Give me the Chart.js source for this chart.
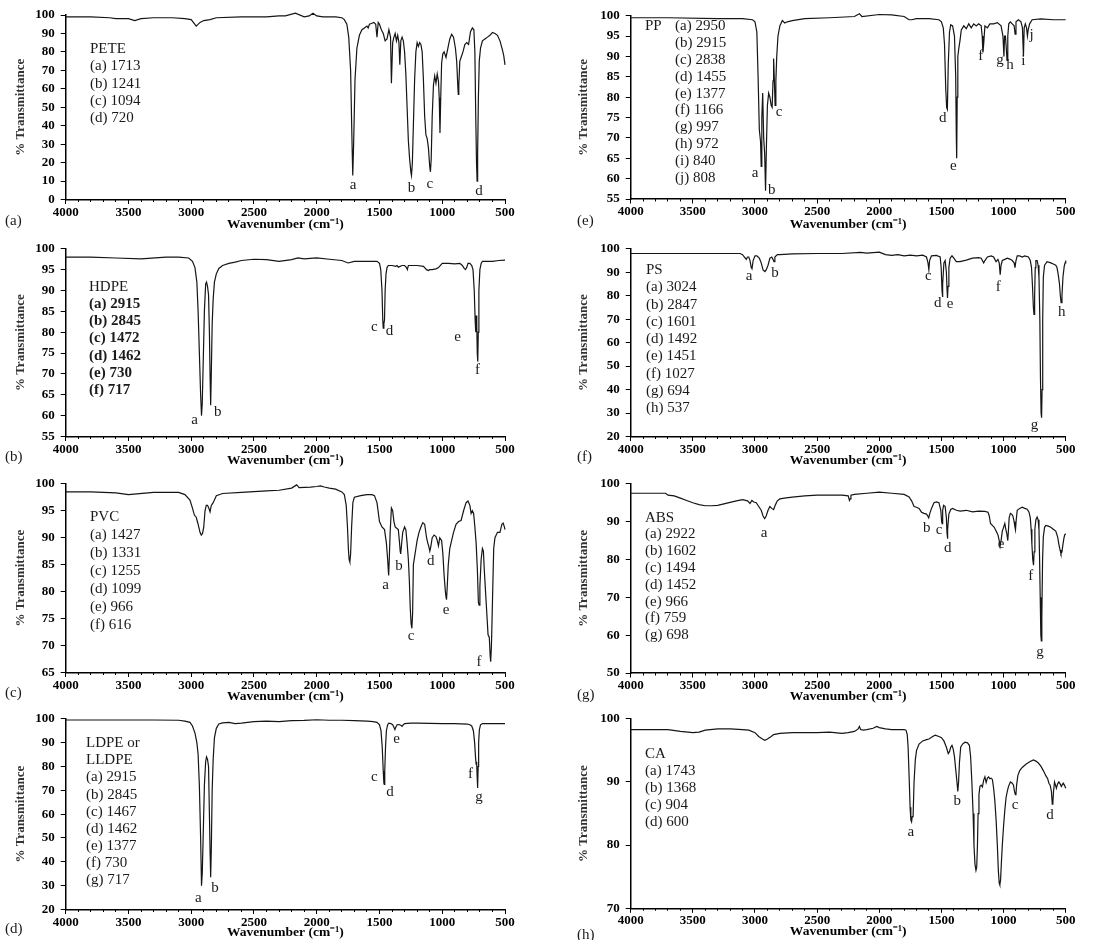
<!DOCTYPE html>
<html>
<head>
<meta charset="utf-8">
<title>FTIR spectra of common plastics</title>
<script src="https://cdn.jsdelivr.net/npm/chart.js@4.4.0/dist/chart.umd.min.js"></script>
<style>
    body { margin: 0; background: #fff; width: 1095px; height: 945px; position: relative; overflow: hidden; }
    canvas { position: absolute; }
</style>
</head>
<body>
<script>
//---------------------- DATA

// (a) PETE
const peteWn = [4000,3800,3650,3600,3500,3450,3400,3300,3150,3050,3000,2960,2930,2900,2850,2800,2600,2400,2300,2250,2170,2100,2060,2030,2000,1950,1850,1800,1780,1760,1745,1730,1720,1713,1706,1695,1680,1660,1640,1620,1600,1590,1580,1560,1545,1530,1520,1510,1500,1485,1470,1455,1440,1425,1412,1405,1395,1385,1375,1365,1355,1345,1338,1330,1320,1310,1300,1290,1280,1270,1260,1250,1245,1238,1230,1220,1210,1200,1190,1180,1170,1160,1150,1140,1130,1120,1110,1100,1094,1088,1080,1070,1060,1050,1040,1030,1024,1018,1012,1005,995,985,970,955,940,925,910,895,885,875,872,868,860,850,835,820,805,790,775,760,748,740,733,727,722,718,712,705,695,680,660,640,620,600,580,560,540,520,510,500];
const peteT = [99,99,98.5,98,98,97,98,98.5,98.5,98,97.5,94,96,97,97.5,98.5,99,99,99.5,99.5,101,99,99.5,101,99.5,99,99,98.5,97.5,95,88,70,35,13,30,65,82,89,92,93,94,93,95,95.5,96,95,88,96,95,92,90,86,87,92,88,63,85,88,90,86,89,85,73,86,88,86,80,68,50,32,22,15,13,20,40,65,80,85,83,85,84,80,65,45,35,33,28,18,15,22,45,62,67,63,68,64,55,36,55,74,79,80,77,82,87,89.5,88,82,75,60,57,62,75,77,80,84,85,84,91,93,92,80,45,20,10,25,55,75,82,86,87,88,89,90.5,90,89,86,81,78,73];
const peteName = ["PETE"];
const peteLegend = ["(a) 1713", "(b) 1241", "(c) 1094", "(d) 720"];
const peteMarks = ["a", "b", "c", "d"];
const peteMarkWn = [1710, 1245, 1098, 707];
const peteMarkT = [8, 6.2, 8.6, 4.4];

// (e) PP
const ppWn = [4000,3700,3300,3100,3020,3000,2985,2975,2965,2955,2950,2945,2938,2930,2922,2915,2908,2900,2890,2880,2870,2862,2855,2850,2845,2838,2832,2825,2815,2800,2780,2760,2740,2700,2600,2400,2200,2160,2140,2000,1900,1800,1760,1740,1700,1600,1520,1500,1485,1475,1465,1458,1452,1445,1435,1425,1410,1395,1385,1380,1377,1373,1368,1360,1350,1340,1320,1300,1280,1260,1240,1220,1200,1180,1172,1166,1160,1150,1130,1110,1080,1050,1020,1005,997,992,985,978,972,966,958,945,930,915,907,900,880,860,848,840,834,825,815,808,802,790,770,700,600,500];
const ppT = [99.5,99.5,99.3,99.3,99,98.5,96,85,72,69,63,75,81,70,66,57,68,78,81,80,78,77.5,84,89.5,85,78,84,90,95,97.5,98.8,98.2,98.5,98.8,99.3,99.5,99.8,100.5,99.8,100.3,100.2,99.8,99,99,99.3,99.3,99,98.5,97,93,82,77.5,77,88,96,97.8,97.5,95,85,70,65,80,90,92,94,96.5,97.5,96.8,98,97,98,97.5,98,97.5,95,91,93,97.5,97,98,98,98.3,97.5,95,90,95,95,92,89,95,98,98.5,98,97.5,95.5,98.5,99,98.5,97,90,97,98,97,95,96.5,98,99,99.2,99,99];
const ppName = ["PP"];
const ppLegend = ["(a) 2950", "(b) 2915", "(c) 2838", "(d) 1455", "(e) 1377", "(f) 1166", "(g) 997", "(h) 972", "(i) 840", "(j) 808"];
const ppMarks = ["a", "b", "c", "d", "e", "f", "g", "h", "i", "j"];
const ppMarkWn = [3000, 2866, 2807, 1490, 1404, 1184, 1028, 948, 841, 774];
const ppMarkT = [61.3, 57.2, 76.3, 74.9, 63.1, 90.1, 89.2, 87.9, 88.8, 95.2];

// (b) HDPE
const hdpeWn = [4000,3800,3600,3400,3200,3100,3020,2990,2970,2955,2945,2935,2925,2918,2912,2905,2895,2885,2878,2870,2862,2855,2850,2845,2840,2833,2825,2815,2800,2780,2750,2700,2650,2600,2500,2400,2300,2200,2150,2100,2000,1900,1800,1750,1700,1600,1520,1500,1490,1480,1474,1470,1465,1460,1455,1448,1440,1430,1400,1370,1360,1350,1320,1300,1285,1278,1270,1250,1200,1150,1125,1110,1100,1080,1050,1030,1000,950,900,860,840,825,815,805,795,780,765,755,745,738,733,729,725,721,717,713,708,700,690,680,650,600,550,500];
const hdpeT = [98,98,97.8,97.6,98,98,97.8,97,95.5,92,85,75,65,60,63,72,85,91.5,92,91,89,80,70,62.5,70,82,88,92,94,95.3,96,96.5,96.8,97.2,97.5,97.4,97,97.4,97.8,97.6,97.8,97.5,97.2,96.6,97,97,97,96.5,95,90,83,81,82,83,90,94,95.5,96,96,95.8,96,95.6,96,96,95.5,95,96,96,96,95.8,95,94.8,95,95,95.2,95.5,96.5,96.5,96.4,96.5,96,95.3,95,95.5,96.5,96.5,96,95,90,83,80,84,82,75,73,80,90,95,96.5,97,97,97,97.2,97.3];
const hdpeName = ["HDPE"];
const hdpeLegend = ["(a) 2915", "(b) 2845", "(c) 1472", "(d) 1462", "(e) 730", "(f) 717"];
const hdpeMarks = ["a", "b", "c", "d", "e", "f"];
const hdpeMarkWn = [2974, 2788, 1542, 1420, 877, 720];
const hdpeMarkT = [59, 60.8, 81.2, 80.2, 78.8, 70.9];

// (f) PS
const psWn = [4000,3500,3120,3100,3085,3070,3060,3050,3040,3030,3024,3015,3000,2985,2965,2950,2935,2920,2910,2895,2880,2865,2855,2847,2840,2820,2800,2700,2500,2300,2150,2100,2000,1950,1900,1850,1800,1750,1700,1650,1620,1608,1601,1595,1580,1540,1510,1502,1495,1492,1488,1480,1470,1460,1455,1451,1447,1440,1430,1415,1400,1380,1350,1300,1250,1200,1180,1170,1160,1150,1130,1100,1080,1070,1060,1045,1035,1027,1020,1010,990,970,945,930,915,908,900,890,870,850,830,800,785,775,768,760,755,750,745,740,730,722,715,708,703,698,694,690,685,680,670,650,620,600,580,570,560,550,543,537,530,522,512,505,500];
const psT = [98,98,98,97.5,96.5,95.5,96.5,96.5,95,92,91.5,95,97,97,96,94,91,90.3,91,93,96,96.5,95.5,94.5,96.5,97.5,97.5,97.8,98,98,98.5,98.2,98.6,97.5,97.2,97.5,97,97.3,97,97.3,96.5,94,91,95,97,97.2,96.5,92,82,79.5,85,94,95,90,83,79,84,92,96,97,96,94.5,94.5,95.2,96,96.2,96,95,94,95,96.5,97,96.5,95.5,94.5,95.5,94,89,93,95,95.5,96,95.5,95,94,92,95,97,97,96.5,97,96.5,95,92,85,75,72,80,92,95,95,93,88,70,45,30,28,40,70,88,93,94.5,94,93.5,93,92,89,85,80,77,80,88,92.5,94,95];
const psName = ["PS"];
const psLegend = ["(a) 3024", "(b) 2847", "(c) 1601", "(d) 1492", "(e) 1451", "(f) 1027", "(g) 694", "(h) 537"];
const psMarks = ["a", "b", "c", "d", "e", "f", "g", "h"];
const psMarkWn = [3048, 2839, 1605, 1530, 1431, 1042, 752, 532];
const psMarkT = [88.3, 89.7, 88.3, 76.8, 76.4, 83.5, 25, 73.1];

// (c) PVC
const pvcWn = [4000,3800,3600,3500,3300,3100,3050,3010,2990,2975,2960,2945,2930,2920,2910,2900,2890,2880,2870,2860,2850,2840,2825,2800,2750,2600,2400,2300,2200,2160,2140,2050,2000,1970,1940,1900,1850,1800,1780,1765,1755,1748,1742,1736,1730,1722,1712,1700,1650,1600,1560,1540,1520,1500,1480,1460,1445,1435,1430,1427,1422,1415,1405,1395,1385,1375,1365,1350,1340,1335,1331,1325,1315,1300,1290,1280,1270,1262,1255,1248,1242,1236,1230,1220,1210,1200,1185,1170,1155,1140,1125,1115,1108,1099,1090,1080,1065,1050,1040,1030,1020,1005,995,985,975,970,966,960,952,940,925,910,890,870,850,830,810,795,780,770,760,750,740,730,720,712,706,700,690,680,672,665,655,645,635,625,618,614,608,600,590,580,560,540,525,515,505,500];
const pvcT = [98.5,98.5,98.3,98,98.4,98.4,98,97,95.5,94.2,93.8,92.5,91,90.5,90.8,92,95,96,96,95.5,94.8,96,96.5,97.8,98.2,98.4,98.7,98.8,99.2,99.8,99.3,99.4,99.5,99.6,99.4,99.2,99,98.5,98,96,92,88,86,85.5,87,92,96.5,97.5,97.8,98,98,97.8,96.5,93,92,91.5,89,86,84,83,86,91,95.5,95,93,92,91.8,91.5,89,87.5,87,88.5,91,92,91.5,89,86,82,77,74,73.2,76,85,86.5,88,89.5,91,92,92.8,92.5,90,89,88.5,87.5,88.5,90,90.5,90.2,89.5,88.5,90,89.5,87,83,80,79,78.5,81,85,88,89.5,91,92.5,93,93.2,95,96.5,96.8,96,94.5,95,94.5,92,89,84,78,77.5,81,86,88,87.5,84,80,76,72,71.5,68,67,70,78,88,90,91,91,92.5,92.7,92,91.5];
const pvcName = ["PVC"];
const pvcLegend = ["(a) 1427", "(b) 1331", "(c) 1255", "(d) 1099", "(e) 966", "(f) 616"];
const pvcMarks = ["a", "b", "c", "d", "e", "f"];
const pvcMarkWn = [1451, 1345, 1249, 1092, 970, 707];
const pvcMarkT = [81.2, 84.7, 71.7, 85.7, 76.5, 66.9];

// (g) ABS
const absWn = [4000,3800,3720,3700,3650,3600,3550,3500,3450,3400,3350,3300,3250,3200,3150,3100,3060,3040,3025,3010,2990,2970,2950,2935,2922,2910,2895,2880,2865,2850,2835,2820,2800,2750,2700,2600,2500,2400,2300,2250,2240,2235,2228,2200,2100,2000,1900,1800,1760,1740,1720,1700,1680,1660,1640,1620,1610,1602,1595,1580,1560,1540,1520,1505,1498,1494,1490,1482,1470,1460,1455,1452,1448,1440,1425,1410,1380,1350,1300,1250,1200,1150,1125,1115,1105,1090,1075,1060,1045,1035,1028,1020,1010,1000,990,982,975,970,966,962,955,945,935,925,915,908,904,898,890,870,850,830,810,795,785,778,772,765,759,754,748,740,730,722,715,710,705,700,696,692,686,680,670,660,640,620,600,580,565,555,545,538,530,522,515,508,500];
const absT = [97.5,97.5,97.5,97,96.8,96.2,95.6,95,94.5,94.2,94.2,94.3,94.7,95.1,95.5,95.8,95.5,94.8,95.6,95.2,95,94,93,91.5,90.8,91.5,93,94,93.5,93.2,94.5,95.5,96,96.3,96.5,96.8,97,97,97,96.8,95.6,96,97,97.2,97.5,97.8,97.5,97.2,96.5,95.5,94,93.8,93.5,92.5,92.2,92,91.5,91,92,93.5,95,95.2,95,93,90,89.5,93,94.3,94,91,87,85.5,88,92,93.2,93.5,93,92.8,93,92.6,92.8,92.7,92.5,91.5,89.5,89,88.5,87.5,86.5,85,83.5,85,87.5,88.5,89.5,88,87,86,85,87,91,92.2,92,91.5,90,88.5,87.8,90.5,93,93.5,93.8,93.5,93.3,92.5,91,88,84,80,78.5,82,88,90.5,91.2,90.5,88,80,70,60,58.5,65,80,86,88.5,89,88.8,88.5,88,87.5,86,84,82.5,81.5,82,84,85.5,86.5,86.8];
const absName = ["ABS"];
const absLegend = ["(a) 2922", "(b) 1602", "(c) 1494", "(d) 1452", "(e) 966", "(f) 759", "(g) 698"];
const absMarks = ["a", "b", "c", "d", "e", "f", "g"];
const absMarkWn = [2927, 1618, 1519, 1450, 1020, 782, 707];
const absMarkT = [87, 88.4, 87.7, 82.9, 84, 75.5, 55.5];

// (d) LDPE / LLDPE
const ldpeWn = [4000,3600,3300,3100,3050,3010,2990,2970,2955,2945,2935,2925,2918,2912,2905,2895,2885,2878,2870,2862,2855,2850,2845,2840,2833,2825,2815,2800,2780,2750,2700,2650,2600,2500,2400,2300,2200,2100,2000,1900,1800,1700,1600,1550,1520,1500,1488,1478,1470,1465,1462,1458,1452,1445,1435,1425,1410,1395,1385,1377,1370,1360,1345,1330,1320,1310,1300,1250,1200,1100,1000,900,800,780,765,752,742,735,730,726,722,718,714,710,704,695,680,650,600,500];
const ldpeT = [99.5,99.5,99.5,99.4,99,98.5,97,94,90,85,72,50,30,35,50,72,82,84,83,80,60,45,33.5,45,70,83,92,96,97.8,98.3,98.5,98,98.2,98.8,99,98.8,99.2,99.3,99.6,99.4,99.4,99.2,99,98.8,98.5,97.5,95,88,78,73,72.5,78,88,95,97.5,98.2,98,97.5,96.5,95.5,96.5,97.5,97.6,97.3,96.8,97.5,98,98.2,98.2,98.1,98,98,97.8,97.5,97,95,90,84,81,82,76,71,80,90,95.5,97.5,98,98,98,98];
const ldpeName = ["LDPE or", "LLDPE"];
const ldpeLegend = ["(a) 2915", "(b) 2845", "(c) 1467", "(d) 1462", "(e) 1377", "(f) 730", "(g) 717"];
const ldpeMarks = ["a", "b", "c", "d", "e", "f", "g"];
const ldpeMarkWn = [2943, 2810, 1541, 1416, 1363, 774, 707];
const ldpeMarkT = [24.8, 29, 75.5, 69.2, 91.6, 76.9, 67.1];

// (h) CA
const caWn = [4000,3800,3700,3600,3500,3450,3400,3300,3200,3100,3050,3000,2970,2940,2920,2900,2870,2850,2800,2700,2600,2500,2400,2300,2250,2200,2170,2160,2150,2130,2100,2050,2020,2000,1950,1900,1850,1800,1785,1775,1768,1760,1752,1746,1740,1735,1728,1720,1710,1700,1680,1650,1620,1600,1570,1550,1520,1500,1480,1460,1445,1435,1425,1415,1405,1395,1385,1375,1368,1362,1355,1345,1330,1310,1290,1275,1265,1255,1245,1238,1230,1222,1216,1210,1205,1198,1190,1180,1170,1160,1150,1140,1130,1120,1110,1100,1090,1080,1070,1060,1050,1042,1035,1030,1024,1018,1010,1000,990,980,970,960,945,930,920,912,905,900,895,885,870,850,820,790,760,740,720,700,680,660,645,635,625,615,608,603,598,590,582,575,565,555,545,535,520,510,500];
const caT = [98.3,98.3,98.3,98,97.8,97.9,98.2,98.4,98.4,98.3,98.2,97.8,97.2,96.8,96.6,96.8,97.2,97.5,97.7,97.8,97.8,97.8,97.9,97.7,97.8,98,98.4,98.8,98.3,98.2,98.3,98.5,98.8,98.6,98.4,98.3,98.3,98.3,98.2,97.5,95.5,91,86,84,83.7,84.5,84.5,90,93.5,95,96,96.5,96.7,96.8,97.2,97.4,97.2,97,96.5,95.5,94.5,94.8,95.5,95.8,95.2,94,92,90,88.5,90,93,95.5,96,96.3,96.2,95.8,94,90,85,80,77,76,76.5,80,85,88,89.3,89.5,89.2,90.3,90.8,89.9,90.6,90.8,90.5,90.6,90.4,89,87,84,80,76,74,73.7,74.5,77,80,83,85.5,87.5,88.5,89.3,90,89.8,89.5,88.5,88,88.2,89.5,91,91.8,92.3,92.8,93.2,93.5,93.3,93,92.5,91.8,91,90.5,89.8,89.5,88.5,86.5,86.8,88.5,90,89.5,89,89.7,90,89.7,89.3,89.8,89.5,89];
const caName = ["CA"];
const caLegend = ["(a) 1743", "(b) 1368", "(c) 904", "(d) 600"];
const caMarks = ["a", "b", "c", "d"];
const caMarkWn = [1747, 1372, 908, 626];
const caMarkT = [82, 87, 86.3, 84.8];

//---------------------- LAYOUT

const SERIF = '"Liberation Serif", "Times New Roman", serif';
const ROW_H = 235;

// one entry per panel; pixel numbers are placement only, the values come from the arrays above
const panels = [
    { tag: "(a)", col: 0, row: 0, yMin: 0, yMax: 100, yStep: 10, top: 15, bottom: 199.5, titleY: 225, tagY: 221,
      wn: peteWn, t: peteT, name: peteName, legend: peteLegend, marks: peteMarks, markWn: peteMarkWn, markT: peteMarkT,
      nameX: 90, legendX: 90, legendY: 49, dy: 17.3, inline: false, bold: false },
    { tag: "(e)", col: 1, row: 0, yMin: 55, yMax: 100, yStep: 5, top: 15.7, bottom: 199, titleY: 225, tagY: 221,
      wn: ppWn, t: ppT, name: ppName, legend: ppLegend, marks: ppMarks, markWn: ppMarkWn, markT: ppMarkT,
      nameX: 85, legendX: 115, legendY: 26, dy: 16.9, inline: true, bold: false },
    { tag: "(b)", col: 0, row: 1, yMin: 55, yMax: 100, yStep: 5, top: 11, bottom: 201.5, titleY: 226, tagY: 222,
      wn: hdpeWn, t: hdpeT, name: hdpeName, legend: hdpeLegend, marks: hdpeMarks, markWn: hdpeMarkWn, markT: hdpeMarkT,
      nameX: 89, legendX: 89, legendY: 52, dy: 17.2, inline: false, bold: true },
    { tag: "(f)", col: 1, row: 1, yMin: 20, yMax: 100, yStep: 10, top: 10.7, bottom: 201.5, titleY: 226, tagY: 222,
      wn: psWn, t: psT, name: psName, legend: psLegend, marks: psMarks, markWn: psMarkWn, markT: psMarkT,
      nameX: 86, legendX: 86, legendY: 35, dy: 17.3, inline: false, bold: false },
    { tag: "(c)", col: 0, row: 2, yMin: 65, yMax: 100, yStep: 5, top: 11.7, bottom: 202.5, titleY: 227, tagY: 223,
      wn: pvcWn, t: pvcT, name: pvcName, legend: pvcLegend, marks: pvcMarks, markWn: pvcMarkWn, markT: pvcMarkT,
      nameX: 90, legendX: 90, legendY: 46.7, dy: 18, inline: false, bold: false },
    { tag: "(g)", col: 1, row: 2, yMin: 50, yMax: 100, yStep: 10, top: 11.7, bottom: 203, titleY: 227, tagY: 225,
      wn: absWn, t: absT, name: absName, legend: absLegend, marks: absMarks, markWn: absMarkWn, markT: absMarkT,
      nameX: 85, legendX: 85, legendY: 47.7, dy: 16.8, inline: false, bold: false },
    { tag: "(d)", col: 0, row: 3, yMin: 20, yMax: 100, yStep: 10, top: 13.3, bottom: 204.5, titleY: 228, tagY: 224,
      wn: ldpeWn, t: ldpeT, name: ldpeName, legend: ldpeLegend, marks: ldpeMarks, markWn: ldpeMarkWn, markT: ldpeMarkT,
      nameX: 86, legendX: 86, legendY: 38.3, dy: 17.1, inline: false, bold: false },
    { tag: "(h)", col: 1, row: 3, yMin: 70, yMax: 100, yStep: 10, top: 12.7, bottom: 203.3, titleY: 227, tagY: 230,
      wn: caWn, t: caT, name: caName, legend: caLegend, marks: caMarks, markWn: caMarkWn, markT: caMarkT,
      nameX: 85, legendX: 85, legendY: 49.3, dy: 17, inline: false, bold: false }
];

// column geometry: canvas left, canvas width, y axis width, right padding, y title offset, tag x
const columns = [
    { left: 0, width: 530, axisW: 65.7, padRight: 25, yTitlePad: 12.5, tagX: 5 },
    { left: 560, width: 535, axisW: 70.7, padRight: 29.3, yTitlePad: 15.5, tagX: 17 }
];

//---------------------- CALLS

panels.forEach(p => drawPanel(p));

//---------------------- FUNCTIONS

function textPlugin(p) {
    return {
        id: 'panelText',
        afterDraw(chart) {
            const ctx = chart.ctx;
            const xs = chart.scales.x;
            const ys = chart.scales.y;
            const col = columns[p.col];
            ctx.save();
            ctx.fillStyle = '#1a1a1a';
            ctx.textBaseline = 'middle';
            ctx.textAlign = 'left';
            ctx.font = `15px ${SERIF}`;
            // sample name and band list
            p.name.forEach((s, i) => ctx.fillText(s, p.nameX, p.legendY + i * p.dy));
            const first = p.inline ? 0 : p.name.length;
            ctx.font = `${p.bold ? 'bold ' : ''}15px ${SERIF}`;
            p.legend.forEach((s, i) => ctx.fillText(s, p.legendX, p.legendY + (first + i) * p.dy));
            // peak letters
            ctx.font = `15px ${SERIF}`;
            ctx.textAlign = 'center';
            for (let i = 0; i < p.marks.length; i++) {
                ctx.fillText(p.marks[i], xs.getPixelForValue(p.markWn[i]), ys.getPixelForValue(p.markT[i]));
            }
            // panel letter
            ctx.textAlign = 'left';
            ctx.font = `15px ${SERIF}`;
            ctx.fillText(p.tag, col.tagX, p.tagY);
            ctx.restore();
        }
    };
}

function drawPanel(p) {
    const col = columns[p.col];
    const canvas = document.createElement('canvas');
    canvas.width = col.width;
    canvas.height = ROW_H;
    canvas.style.left = col.left + 'px';
    canvas.style.top = (p.row * ROW_H) + 'px';
    document.body.appendChild(canvas);

    const points = [];
    for (let i = 0; i < p.wn.length; i++) {
        points.push({ x: p.wn[i], y: p.t[i] });
    }
    const tickFont = { family: SERIF, size: 13, weight: 'bold' };

    new Chart(canvas.getContext('2d'), {
        type: 'line',
        data: {
            datasets: [{
                data: points,
                borderColor: '#151515',
                borderWidth: 1.2,
                pointRadius: 0,
                tension: 0,
                fill: false,
                clip: false
            }]
        },
        options: {
            responsive: false,
            animation: false,
            devicePixelRatio: 1,
            layout: { padding: { left: 0, right: col.padRight, top: p.top, bottom: 0 } },
            plugins: {
                legend: { display: false },
                tooltip: { enabled: false }
            },
            scales: {
                // minor ticks every 100 cm-1, takes no room
                xMinor: {
                    type: 'linear',
                    position: 'bottom',
                    weight: 0,
                    reverse: true,
                    min: 500,
                    max: 4000,
                    afterFit: scale => { scale.height = 0; },
                    ticks: { stepSize: 100, autoSkip: false, maxRotation: 0, callback: () => '' },
                    grid: { drawOnChartArea: false, drawTicks: true, tickLength: 2.5, color: '#000', lineWidth: 1 },
                    border: { display: false }
                },
                x: {
                    type: 'linear',
                    position: 'bottom',
                    weight: 1,
                    reverse: true,
                    min: 500,
                    max: 4000,
                    afterFit: scale => { scale.height = ROW_H - p.bottom; },
                    ticks: {
                        stepSize: 500,
                        autoSkip: false,
                        maxRotation: 0,
                        padding: 0.5,
                        color: '#000',
                        font: tickFont,
                        callback: v => String(v)
                    },
                    grid: { drawOnChartArea: false, drawTicks: true, tickLength: 4.5, color: '#000', lineWidth: 1 },
                    border: { display: true, color: '#000', width: 1.5 },
                    title: {
                        display: true,
                        text: 'Wavenumber (cm⁻¹)',
                        color: '#000',
                        font: { family: SERIF, size: 13.5, weight: 'bold' },
                        padding: { top: 0, bottom: ROW_H - p.titleY - 8.1 }
                    }
                },
                y: {
                    min: p.yMin,
                    max: p.yMax,
                    afterFit: scale => { scale.width = col.axisW; },
                    ticks: {
                        stepSize: p.yStep,
                        autoSkip: false,
                        padding: 6,
                        color: '#000',
                        font: tickFont
                    },
                    grid: { drawOnChartArea: false, drawTicks: true, tickLength: 5, color: '#000', lineWidth: 1 },
                    border: { display: true, color: '#000', width: 1.5 },
                    title: {
                        display: true,
                        text: '% Transmittance',
                        color: '#333',
                        font: { family: SERIF, size: 13, weight: 'bold' },
                        padding: { top: col.yTitlePad, bottom: 0 }
                    }
                }
            }
        },
        plugins: [textPlugin(p)]
    });
}
</script>
</body>
</html>
